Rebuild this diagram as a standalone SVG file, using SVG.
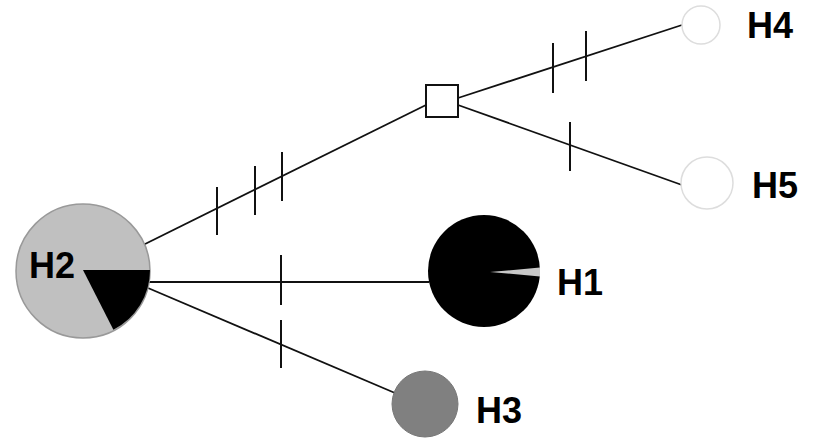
<svg xmlns="http://www.w3.org/2000/svg" width="818" height="440" viewBox="0 0 818 440">
  <style>
    .edge { stroke: #111; stroke-width: 1.8; fill: none; }
    .tick { stroke: #111; stroke-width: 2; }
    .lbl { font-family: "Liberation Sans", Arial, sans-serif; font-weight: bold; font-size: 36px; fill: #000; }
  </style>
  <rect width="818" height="440" fill="#fff"/>

  <g id="connectors">
    <!-- H2 to median vector -->
    <line class="edge" x1="137" y1="248" x2="426" y2="105"/>
    <line class="tick" x1="217" y1="187" x2="217" y2="235"/>
    <line class="tick" x1="255" y1="166" x2="255" y2="215"/>
    <line class="tick" x1="282" y1="152" x2="282" y2="201"/>
    <!-- median vector to H4 -->
    <line class="edge" x1="458" y1="98" x2="682" y2="25"/>
    <line class="tick" x1="553" y1="43" x2="553" y2="93"/>
    <line class="tick" x1="586" y1="31" x2="586" y2="81"/>
    <!-- median vector to H5 -->
    <line class="edge" x1="458" y1="105" x2="682" y2="185"/>
    <line class="tick" x1="570" y1="122" x2="570" y2="171"/>
    <!-- H2 to H1 -->
    <line class="edge" x1="148" y1="282" x2="429" y2="282"/>
    <line class="tick" x1="281" y1="255" x2="281" y2="305"/>
    <!-- H2 to H3 -->
    <line class="edge" x1="148" y1="288" x2="395" y2="393"/>
    <line class="tick" x1="281" y1="320" x2="281" y2="368"/>
  </g>

  <g id="H2">
    <circle cx="83" cy="271" r="67" fill="#c0c0c0" stroke="#999" stroke-width="1.5"/>
    <path d="M83,270 L150,270 A67,67 0 0 1 113.4,329.7 Z" fill="#000"/>
    <text class="lbl" x="29" y="278">H2</text>
  </g>

  <g id="H1">
    <circle cx="484" cy="271" r="56" fill="#000"/>
    <path d="M490,272 L540,267.5 L540,276.5 Z" fill="#c8c8c8"/>
    <text class="lbl" x="557" y="295">H1</text>
  </g>

  <g id="H3">
    <circle cx="425" cy="404" r="33" fill="#808080" stroke="#777" stroke-width="1"/>
    <text class="lbl" x="476" y="423">H3</text>
  </g>

  <g id="H4">
    <circle cx="701" cy="25" r="19" fill="#fff" stroke="#ddd" stroke-width="1.5"/>
    <text class="lbl" x="747" y="38">H4</text>
  </g>

  <g id="H5">
    <circle cx="707" cy="183" r="26" fill="#fff" stroke="#ddd" stroke-width="1.5"/>
    <text class="lbl" x="752" y="198">H5</text>
  </g>

  <g id="mv">
    <rect x="426" y="85" width="32" height="32" fill="#fff" stroke="#111" stroke-width="2"/>
  </g>
</svg>
